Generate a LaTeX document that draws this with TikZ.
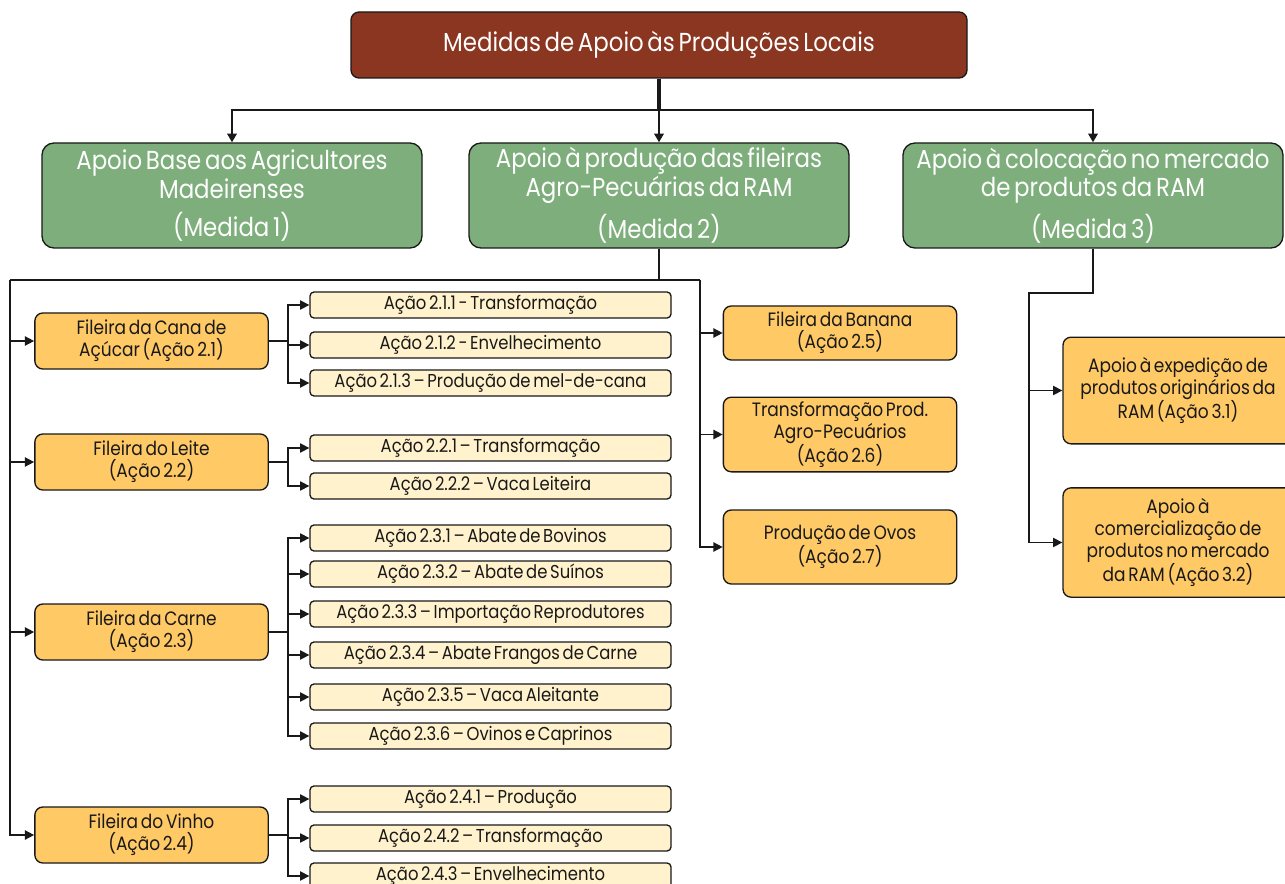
\documentclass[tikz,border=0pt]{standalone}
\usepackage{fontspec}
\setmainfont{Poppins}[FakeStretch=0.88,WordSpace=0.6]
\usepackage{tikz}
\usetikzlibrary{arrows.meta, positioning, calc}
\definecolor{mydark}{RGB}{25,25,25}
\definecolor{mybrown}{RGB}{138,54,32}
\definecolor{mygreen}{RGB}{125,174,123}
\definecolor{myorange}{RGB}{255,201,102}
\definecolor{mycream}{RGB}{255,242,204}
\tikzset{
  topbox/.style={rectangle, draw=mydark, fill=mybrown, text=white,
    minimum width=462pt, minimum height=49.5pt, rounded corners=6pt,
    line width=1pt, font=\fontsize{19.5}{22}\selectfont},
  medbox/.style={rectangle, draw=mydark, fill=mygreen, text=white,
    minimum width=285pt, minimum height=78.75pt, rounded corners=9pt,
    align=center, line width=1pt, inner sep=1pt, font=\fontsize{19.5}{21.5}\selectfont},
  filbox/.style={rectangle, draw=mydark, fill=myorange, text=mydark,
    minimum width=175pt, minimum height=42pt, rounded corners=6pt,
    align=center, line width=1pt, inner sep=1pt, font=\fontsize{14.5}{16.5}\selectfont},
  acbox/.style={rectangle, draw=mydark, fill=mycream, text=mydark,
    minimum width=270.75pt, minimum height=19.5pt, inner sep=0pt,
    rounded corners=3pt, line width=1pt, font=\fontsize{14}{15}\selectfont},
  trunk/.style={line width=3pt, color=mydark},
  bigarrow/.style={-{Triangle[length=6.5pt,width=7pt]}, line width=2.2pt, color=mydark},
  arrow/.style={-{Triangle[length=7pt,width=7pt]}, line width=1.1pt, color=mydark},
  line/.style={line width=1.1pt, color=mydark}
}
\begin{document}
\begin{tikzpicture}[x=0.75pt,y=-0.75pt]
  \useasboundingbox[fill=white] (0,0) rectangle (1285,884);
  % top level
  \node[topbox] (top) at (659,45) {Medidas de Apoio às Produções Locais};
  \node[medbox] (m1) at (232,195.5) {Apoio Base aos Agricultores\\Madeirenses\\[7pt](Medida 1)};
  \node[medbox] (m2) at (659,195.5) {Apoio à produção das fileiras\\Agro-Pecuárias da RAM\\[7pt](Medida 2)};
  \node[medbox] (m3) at (1093,195.5) {Apoio à colocação no mercado\\de produtos da RAM\\[7pt](Medida 3)};
  \coordinate (bus) at (659,110);
  \draw[trunk] (top.south) -- (bus);
  \draw[bigarrow] (bus) -| (m1.north);
  \draw[bigarrow] (bus) -- (m2.north);
  \draw[bigarrow] (bus) -| (m3.north);
  % Medida 2: fileiras
  \node[filbox] (f21) at (151.5,341) {Fileira da Cana de\\Açúcar (Ação 2.1)};
  \node[filbox] (f22) at (151.5,462) {Fileira do Leite\\(Ação 2.2)};
  \node[filbox] (f23) at (151.5,632) {Fileira da Carne\\(Ação 2.3)};
  \node[filbox] (f24) at (151.5,835) {Fileira do Vinho\\(Ação 2.4)};
  \node[filbox, minimum height=40.5pt] (f25) at (840,333) {Fileira da Banana\\(Ação 2.5)};
  \node[filbox, minimum height=56pt] (f26) at (840,434.5) {Transformação Prod.\\Agro-Pecuários\\(Ação 2.6)};
  \node[filbox, minimum height=55.5pt] (f27) at (840,547) {Produção de Ovos\\(Ação 2.7)};
  \coordinate (split) at (659,280);
  \coordinate (lrail) at (10,280);
  \coordinate (rrail) at (700,280);
  \draw[line] (m2.south) -- (split) -- (lrail);
  \draw[line] (split) -- (rrail);
  \foreach \f in {f21,f22,f23,f24}
    \draw[arrow] (lrail) |- (\f.west);
  \foreach \f in {f25,f26,f27}
    \draw[arrow] (rrail) |- (\f.west);
  % acoes
  \foreach \n/\y/\t in {
      211/305/Ação 2.1.1 - Transformação,
      212/345/Ação 2.1.2 - Envelhecimento,
      213/383/Ação 2.1.3 – Produção de mel-de-cana,
      221/448/Ação 2.2.1 – Transformação,
      222/486/Ação 2.2.2 – Vaca Leiteira,
      231/538/Ação 2.3.1 – Abate de Bovinos,
      232/574/Ação 2.3.2 – Abate de Suínos,
      233/614/Ação 2.3.3 – Importação Reprodutores,
      234/655/Ação 2.3.4 – Abate Frangos de Carne,
      235/697/Ação 2.3.5 – Vaca Aleitante,
      236/736/Ação 2.3.6 – Ovinos e Caprinos,
      241/799/Ação 2.4.1 – Produção,
      242/838/Ação 2.4.2 – Transformação,
      243/876/Ação 2.4.3 – Envelhecimento}
    \node[acbox] (a\n) at (490.5,\y) {\t};
  \coordinate (b21) at (288,341);
  \coordinate (b22) at (288,462);
  \coordinate (b23) at (288,632);
  \coordinate (b24) at (288,835);
  \foreach \n in {211,212,213}
    \draw[arrow] (f21.east) -- (b21) |- (a\n.west);
  \foreach \n in {221,222}
    \draw[arrow] (f22.east) -- (b22) |- (a\n.west);
  \draw[line, line width=2pt] (f23.east) -- (b23);
  \foreach \n in {231,232,233,234,235,236}
    \draw[arrow] (b23) |- (a\n.west);
  \foreach \n in {241,242,243}
    \draw[arrow] (f24.east) -- (b24) |- (a\n.west);
  % Medida 3
  \node[filbox, minimum width=172.5pt, minimum height=80pt] (f31) at (1178,390.5) {Apoio à expedição de\\produtos originários da\\RAM (Ação 3.1)};
  \node[filbox, minimum width=172.5pt, minimum height=82pt] (f32) at (1178,542.5) {Apoio à\\comercialização de\\produtos no mercado\\da RAM (Ação 3.2)};
  \coordinate (r3) at (1029,293);
  \foreach \f in {f31,f32}
    \draw[arrow] (m3.south) |- (r3) |- (\f.west);
\end{tikzpicture}
\end{document}
